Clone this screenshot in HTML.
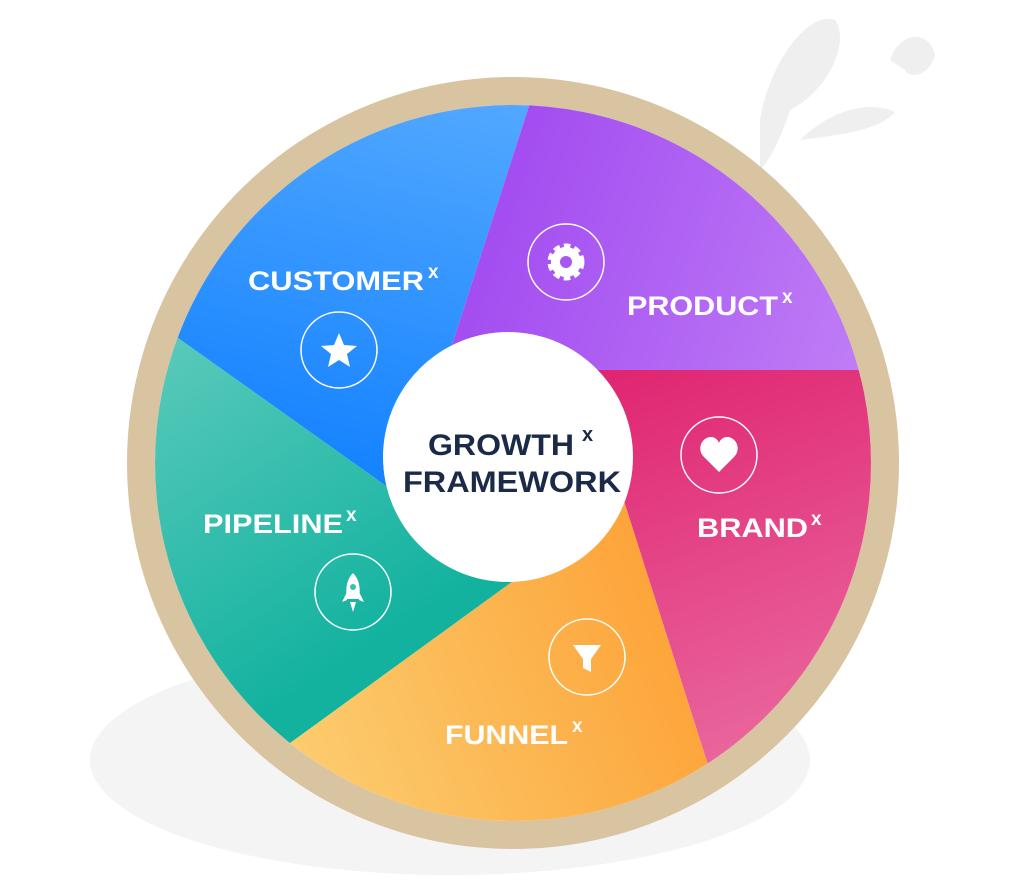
<!DOCTYPE html>
<html><head><meta charset="utf-8"><style>
html,body{margin:0;padding:0;background:#fff;overflow:hidden;width:1029px;height:892px;}
svg{display:block;}
text{font-family:"Liberation Sans",sans-serif;font-weight:bold;}
</style></head><body>
<svg width="1029" height="892" viewBox="0 0 1029 892" xmlns="http://www.w3.org/2000/svg">
<defs>
<clipPath id="pie"><circle cx="513" cy="463" r="358"/></clipPath>
<linearGradient id="gC" x1="0.8" y1="0" x2="0.5" y2="1"><stop offset="0" stop-color="#66b4ff"/><stop offset="1" stop-color="#0c7dff"/></linearGradient>
<linearGradient id="gP" x1="0" y1="0" x2="1" y2="0.3"><stop offset="0" stop-color="#9a3cef"/><stop offset="1" stop-color="#c283f6"/></linearGradient>
<linearGradient id="gB" x1="0" y1="0" x2="0.3" y2="1"><stop offset="0" stop-color="#df1f6d"/><stop offset="1" stop-color="#ee86b2"/></linearGradient>
<linearGradient id="gF" x1="0" y1="0.6" x2="1" y2="0.2"><stop offset="0" stop-color="#fcd67c"/><stop offset="1" stop-color="#fd9a2c"/></linearGradient>
<linearGradient id="gL" x1="0.2" y1="0" x2="0.7" y2="0.9"><stop offset="0" stop-color="#72d1c4"/><stop offset="0.7" stop-color="#12b29f"/><stop offset="1" stop-color="#12b29f"/></linearGradient>
</defs>
<ellipse cx="450" cy="760" rx="360" ry="115" fill="#f4f4f4"/>
<path d="M760 120 C770 60 810 10 835 20 C850 40 830 90 790 110 C780 140 770 160 760 170 Z" fill="#efefef"/>
<path d="M800 140 C830 110 870 100 895 112 C880 130 840 135 800 140 Z" fill="#efefef"/>
<path d="M890 60 C900 30 930 30 935 55 C930 75 910 80 905 70 Z" fill="#efefef"/>
<circle cx="513" cy="463" r="386" fill="#d8c4a0"/>
<circle cx="513" cy="463" r="358" fill="#fff"/>
<g clip-path="url(#pie)">
<polygon points="440,382 530,103 560,-50 -100,-50 -100,280 178,338 410,503 508,457" fill="url(#gC)"/>
<polygon points="440,382 530,103 560,-50 1000,-50 1000,370 580,370 508,457" fill="url(#gP)"/>
<polygon points="580,370 1000,370 1000,1000 760,1000 708,765 615,473 508,457" fill="url(#gB)"/>
<polygon points="615,473 708,765 760,1000 200,1000 290,743 520,576 508,457" fill="url(#gF)"/>
<polygon points="520,576 290,743 200,1000 -100,1000 -100,280 178,338 410,503 508,457" fill="url(#gL)"/>
</g>
<circle cx="508" cy="457" r="125" fill="#fff"/>
<text x="428" y="455" font-size="30" fill="#1b2a47" textLength="146" lengthAdjust="spacingAndGlyphs">GROWTH</text>
<text x="582" y="441" font-size="20" fill="#1b2a47">x</text>
<text x="403" y="492" font-size="30" fill="#1b2a47" textLength="218" lengthAdjust="spacingAndGlyphs">FRAMEWORK</text>
<g fill="#fff" font-size="27">
<text x="248" y="290" textLength="176" lengthAdjust="spacingAndGlyphs">CUSTOMER</text><text x="428" y="278" font-size="19">x</text>
<text x="627" y="315" textLength="151" lengthAdjust="spacingAndGlyphs">PRODUCT</text><text x="782" y="303" font-size="19">x</text>
<text x="697" y="537" textLength="111" lengthAdjust="spacingAndGlyphs">BRAND</text><text x="811" y="525" font-size="19">x</text>
<text x="203" y="533" textLength="140" lengthAdjust="spacingAndGlyphs">PIPELINE</text><text x="346" y="521" font-size="19">x</text>
<text x="445" y="744" textLength="123" lengthAdjust="spacingAndGlyphs">FUNNEL</text><text x="572" y="732" font-size="19">x</text>
</g>
<g fill="none" stroke="#fff" stroke-width="1.5">
<circle cx="566" cy="262" r="38"/><circle cx="339" cy="350" r="38"/><circle cx="719" cy="455" r="38"/><circle cx="353" cy="592" r="38"/><circle cx="587" cy="657" r="38"/>
</g>
<g fill="#fff">
<circle cx="566" cy="262" r="15" stroke="#fff" stroke-width="7" stroke-dasharray="6 3.8"/>
<circle cx="566" cy="262" r="15"/><circle cx="566" cy="262" r="6" fill="#a758f0"/>
<polygon points="339,333 344,345 357,346 347,354 350,367 339,360 328,367 331,354 321,346 334,345"/>
<path d="M719 472 L704 457 C696 449 702 437 711 437 C715 437 718 440 719 443 C720 440 723 437 727 437 C736 437 742 449 734 457 Z"/>
<path d="M353 573 C359 579 361 588 359 599 L347 599 C345 588 347 579 353 573 Z"/>
<path d="M347 592 L342 602 L347 600 Z M359 592 L364 602 L359 600 Z"/>
<path d="M350 602 L356 602 L353 612 Z"/>
<circle cx="353" cy="587" r="3" fill="#3cc0ad"/>
<path d="M573 645 L601 645 L591 659 L591 672 L583 668 L583 659 Z"/>
</g>
</svg>
</body></html>
